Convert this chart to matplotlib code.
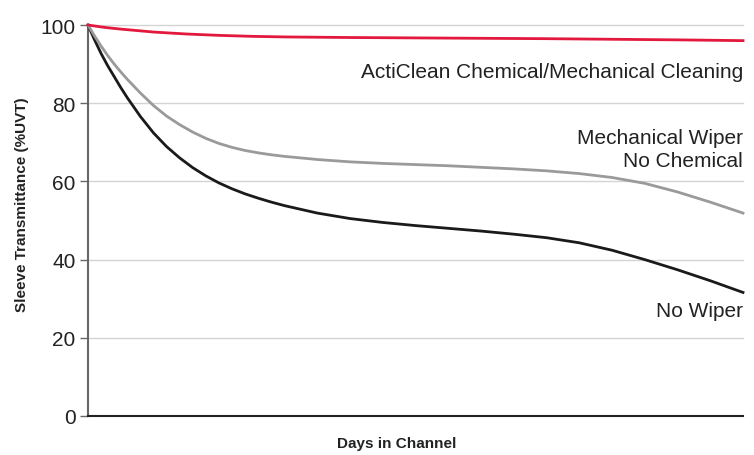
import matplotlib
matplotlib.use("Agg")
import matplotlib.pyplot as plt

plt.rcParams['font.family'] = ['Liberation Sans', 'DejaVu Sans']

# Days (arbitrary units, no tick labels in reference)
days_red = [0, 1, 2, 3, 5, 7, 10, 15, 20, 25, 30, 40, 50, 60, 70, 80, 90, 100]
acticlean = [100, 99.75, 99.5, 99.3, 98.95, 98.65, 98.2, 97.7, 97.35, 97.1, 96.95, 96.8,
             96.7, 96.6, 96.5, 96.35, 96.2, 96.0]

days = [0, 1, 2, 3, 4, 5, 6, 8, 10, 12, 14, 16, 18, 20, 22, 24, 26, 28, 30, 35, 40, 45,
        50, 55, 60, 65, 70, 75, 80, 85, 90, 95, 100]
mech_wiper = [100, 97.2, 94.6, 92.2, 90.0, 88.0, 86.1, 82.6, 79.4, 76.7, 74.5, 72.6, 71.0,
              69.7, 68.7, 67.9, 67.3, 66.8, 66.4, 65.6, 65.0, 64.6, 64.3, 64.0, 63.6,
              63.2, 62.7, 62.0, 61.0, 59.5, 57.3, 54.7, 51.9]
no_wiper = [100, 96.2, 92.7, 89.6, 86.8, 84.0, 81.4, 76.6, 72.4, 68.9, 66.0, 63.5, 61.4,
            59.6, 58.1, 56.8, 55.7, 54.7, 53.8, 51.9, 50.5, 49.5, 48.7, 48.0, 47.3,
            46.5, 45.6, 44.3, 42.4, 40.0, 37.4, 34.6, 31.6]

y_ticks = [0, 20, 40, 60, 80, 100]
labels = {
    "red": "ActiClean Chemical/Mechanical Cleaning",
    "gray": "Mechanical Wiper\nNo Chemical",
    "black": "No Wiper",
}

fig = plt.figure(figsize=(7.54, 4.56), dpi=100)
ax = fig.add_axes([88/754, 1-417/456, (743-88)/754, (417-26)/456])

ax.set_xlim(0, 100)
ax.set_ylim(0, 100)

for y in y_ticks[1:]:
    ax.axhline(y, color='#d4d4d4', lw=1.0, zorder=0, clip_on=False)

ax.plot(days, no_wiper, color='#1a1a1a', lw=2.0, clip_on=False, zorder=3,
        solid_joinstyle='round')
ax.plot(days, mech_wiper, color='#9a9a9a', lw=2.0, clip_on=False, zorder=3,
        solid_joinstyle='round')
ax.plot(days_red, acticlean, color='#e2183d', lw=2.0, clip_on=False, zorder=4,
        solid_joinstyle='round')

ax.set_yticks(y_ticks)
ax.set_yticklabels([str(v) for v in y_ticks], fontsize=15, color='#222222')
ax.set_xticks([])
ax.tick_params(axis='y', direction='out', length=6, width=1, color='#666666', pad=3)

for s in ['top', 'right']:
    ax.spines[s].set_visible(False)
ax.spines['left'].set_color('#666666')
ax.spines['left'].set_linewidth(1.5)
ax.spines['bottom'].set_color('#222222')
ax.spines['bottom'].set_linewidth(1.5)

ax.text(100, 88.2, labels["red"], ha='right', va='center', fontsize=15, color='#222222')
ax.text(100, 68.2, labels["gray"], ha='right', va='center', fontsize=15, color='#222222',
        linespacing=1.25)
ax.text(100, 27.1, labels["black"], ha='right', va='center', fontsize=15, color='#222222')

fig.text(397/754, 1-444/456, "Days in Channel", ha='center', va='center',
         fontsize=11, fontweight='bold', color='#222222')
fig.text(22/754, 1-205/456, "Sleeve Transmittance (%UVT)", ha='center', va='center',
         rotation=90, fontsize=11, fontweight='bold', color='#222222')

fig.savefig("out.png", dpi=100)
